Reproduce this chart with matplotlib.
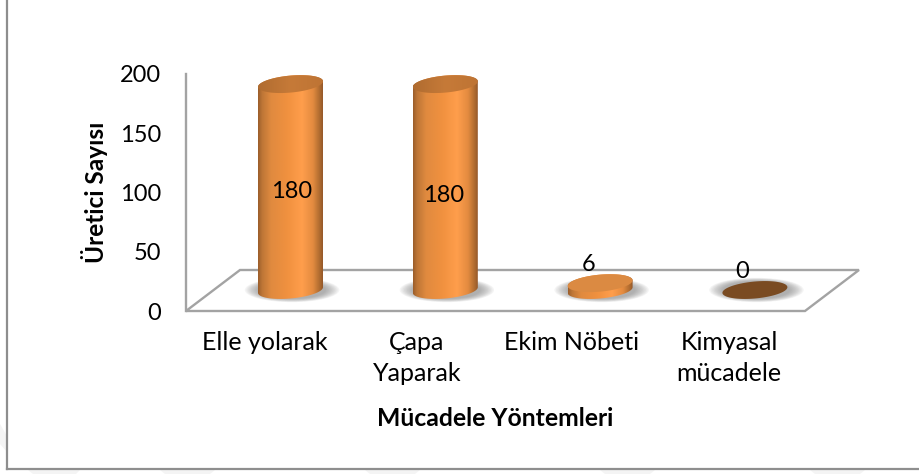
import matplotlib
matplotlib.use("Agg")
import matplotlib.pyplot as plt
import numpy as np
from matplotlib.colors import LinearSegmentedColormap
from matplotlib.patches import Ellipse, Polygon
from matplotlib.lines import Line2D

plt.rcParams['font.family'] = ['Lato', 'DejaVu Sans']

categories = ["Elle yolarak", "Çapa\nYaparak", "Ekim Nöbeti", "Kimyasal\nmücadele"]
values = [180, 180, 6, 0]
y_ticks = [0, 50, 100, 150, 200]
y_title = "Üretici Sayısı"
x_title = "Mücadele Yöntemleri"

W, H = 920, 474
GREY = "#A3A3A3"
body_cmap = LinearSegmentedColormap.from_list("body", [
    (0, "#9C5E2B"), (.06, "#BD7636"), (.2, "#E08A3F"), (.45, "#F0913F"),
    (.68, "#FF9E4C"), (.85, "#E38B40"), (.95, "#B06C30"), (1, "#96592A")])
top_cmap = LinearSegmentedColormap.from_list("top", ["#B06C30", "#C67A38", "#BE7434"])


def axes_px(fig, x0, x1, y_top, y_bot):
    return fig.add_axes([x0 / W, 1 - y_bot / H, (x1 - x0) / W, (y_bot - y_top) / H])


def ellipse_pts(cx, y0, a, b, tilt, t0=0, t1=2 * np.pi):
    t = np.linspace(t0, t1, 80)
    return cx + a * np.cos(t), y0 + b * np.sin(t) + tilt * np.cos(t)


fig = plt.figure(figsize=(W / 100, H / 100), dpi=100)

# faint watermark behind the frame
bg = fig.add_axes([0, 0, 1, 1])
bg.set_xlim(0, W)
bg.set_ylim(H, 0)
bg.axis("off")
for pts in [[(0, 424), (7, 436), (7, 452), (0, 444)],
            [(28, 470), (80, 470), (76, 474), (33, 474)],
            [(160, 470), (215, 470), (210, 474), (165, 474)],
            [(365, 470), (420, 470), (415, 474), (370, 474)],
            [(600, 470), (655, 470), (650, 474), (605, 474)],
            [(810, 470), (865, 470), (860, 474), (815, 474)]]:
    bg.add_patch(Polygon(pts, closed=True, color="#F4F4F4", lw=0))
fig.add_artist(Line2D([7.5 / W, 7.5 / W], [1, 1 - 469 / H], color="#8E8E8E", lw=1.6))
fig.add_artist(Line2D([7.5 / W, 1], [1 - 469 / H, 1 - 469 / H], color="#8E8E8E", lw=1.6))

# axis wall and floor
xlim = ((186 - 290.5) / 154.8, (805 - 290.5) / 154.8)
ax = axes_px(fig, 186, 805, 74, 311)
ax.patch.set_alpha(0)
ax.set_xlim(xlim)
ax.set_ylim(0, 200)
for s in ax.spines.values():
    s.set_visible(False)
ax.set_xticks([])
ax.set_yticks(y_ticks)
ax.tick_params(axis="y", length=0, pad=18, labelsize=17, labelcolor="black")
dx, dy = 54 / 154.8, 41 / 1.185
floor = [(xlim[0], 0), (xlim[0] + dx, dy), (xlim[1] + dx, dy), (xlim[1], 0)]
ax.add_patch(Polygon(floor, closed=True, fill=False, ec=GREY, lw=1.7, clip_on=False))
ax.plot([xlim[0], xlim[0]], [0, 200], color=GREY, lw=1.7, clip_on=False)

# cylinders, on their own scale because they stand back from the front edge
# the axes reaches below 0 so the round bases are not cut off
bx = axes_px(fig, 186, 805, 290 - 200 * 1.144, 290 + 20 * 1.144)
bx.patch.set_alpha(0)
bx.axis("off")
a, b, tilt = 32.5 / 154.8, 8.5 / 1.144, 2.8 / 1.144
for i, v in enumerate(values):
    for k in range(10):
        f = 1 - k / 10
        bx.add_patch(Ellipse((i + 0.01, 0), 2 * (a + .095 * f), 2 * (b + 3.2 * f),
                             color="#6F6F6F", alpha=.07, lw=0, clip_on=False, zorder=1))
    if v == 0:
        xs, ys = ellipse_pts(i, 0, a, b, tilt)
        bx.fill(xs, ys, color="#7A4B22", lw=0, zorder=3)
        continue
    xl, yl = ellipse_pts(i, 0, a, b, tilt, np.pi, 2 * np.pi)
    xu, yu = ellipse_pts(i, v, a, b, tilt, 0, np.pi)
    clip = Polygon(np.column_stack([np.r_[xl, xu], np.r_[yl, yu]]), closed=True,
                   transform=bx.transData)
    im = bx.imshow(np.linspace(0, 1, 200)[None, :], cmap=body_cmap, aspect="auto", zorder=2,
                   extent=(i - a, i + a, -b - tilt, v + b + tilt))
    im.set_clip_path(clip)
    xs, ys = ellipse_pts(i, v, a, b, tilt)
    if v > 50:
        tp = Polygon(np.column_stack([xs, ys]), closed=True, transform=bx.transData)
        im2 = bx.imshow(np.linspace(0, 1, 100)[None, :], cmap=top_cmap, aspect="auto", zorder=3,
                        extent=(i - a, i + a, v - b - tilt, v + b + tilt))
        im2.set_clip_path(tp)
    else:
        bx.fill(xs, ys, color="#DB8A42", lw=0, zorder=3)
bx.set_xlim(xlim)
bx.set_ylim(-20, 200)

# data labels sit where the original chart left them
label_dx = [.01, -.013, -.075, -.08]
label_y = [86.5, 83, 22.5, 16]
for i, v in enumerate(values):
    bx.text(i + label_dx[i], label_y[i], str(v), ha="center", va="center", fontsize=17,
            color="black", zorder=5, clip_on=False)

# category labels are shifted left of the bars
cat_px = [265, 417, 572, 729]
for x, c in zip(cat_px, categories):
    fig.text(x / W, 1 - 331 / H, c, ha="center", va="top", fontsize=18, linespacing=1.42,
             color="black")
fig.text(495 / W, 1 - 418 / H, x_title, ha="center", va="center", fontsize=17.8,
         fontweight="bold", color="black")
fig.text(94 / W, 1 - 192 / H, y_title, ha="center", va="center", rotation=90, fontsize=17.6,
         fontweight="bold", color="black")

fig.savefig("out.png", dpi=100)
